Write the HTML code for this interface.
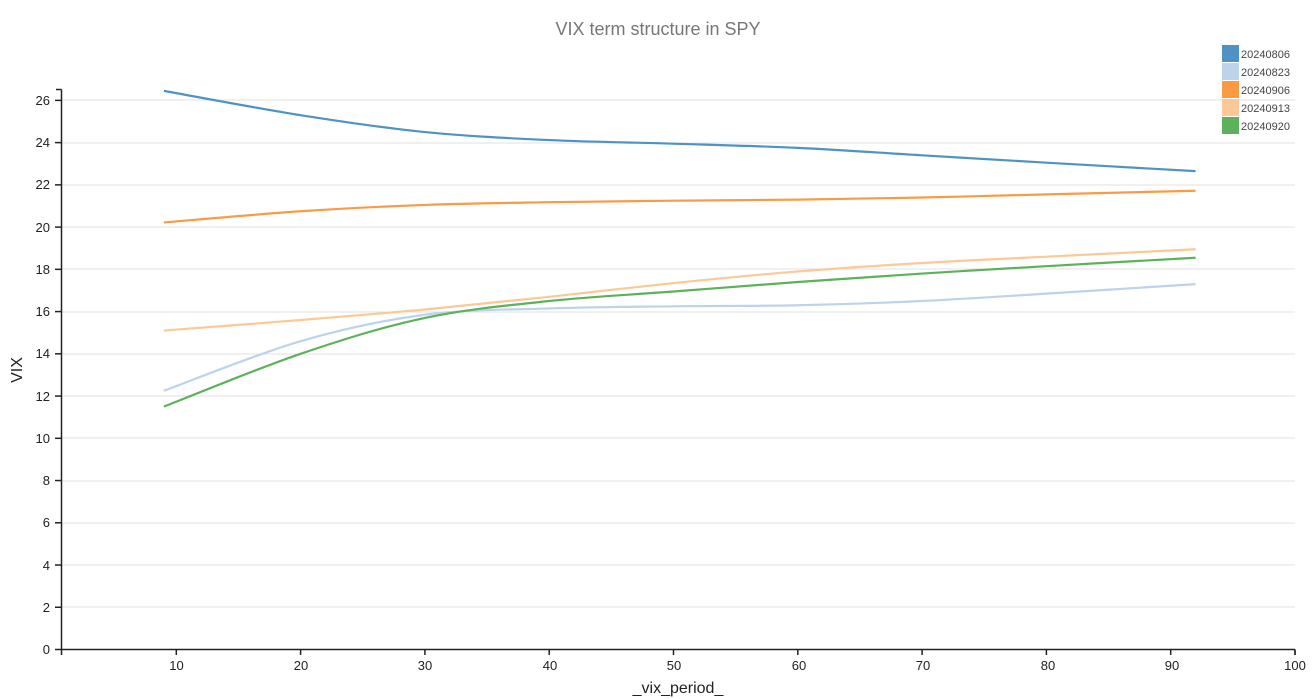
<!DOCTYPE html>
<html><head><meta charset="utf-8"><style>
body{margin:0;background:#fff;}
svg{display:block;font-family:"Liberation Sans",Arial,sans-serif;}
</style></head><body>
<svg id="s" width="1316" height="699" viewBox="0 0 1316 699">
<text x="658" y="35" text-anchor="middle" font-size="18" fill="#777">VIX term structure in SPY</text>
<g id="grid" stroke="#e2e2e2" stroke-width="1"></g>
<g id="ticks" font-size="13" fill="#222"></g>
<line x1="61.5" y1="89.5" x2="61.5" y2="655" stroke="#222" stroke-width="1.5"/>
<line x1="56" y1="89.5" x2="61.5" y2="89.5" stroke="#222" stroke-width="1.5"/>
<line x1="61" y1="649.5" x2="1295" y2="649.5" stroke="#222" stroke-width="1.5"/>
<line x1="1295" y1="649.5" x2="1295" y2="655" stroke="#222" stroke-width="1.5"/>
<text x="678" y="693" text-anchor="middle" font-size="16" fill="#222">_vix_period_</text>
<text x="22" y="370" text-anchor="middle" font-size="16" fill="#222" transform="rotate(-90 22 370)">VIX</text>
<g id="lines" fill="none" stroke-width="2.2"></g>
<g font-size="11" fill="#444">
<rect x="1222" y="45" width="17" height="17" fill="#4e93c4"/><text x="1241" y="58">20240806</text>
<rect x="1222" y="63" width="17" height="17" fill="#bcd3eb"/><text x="1241" y="76">20240823</text>
<rect x="1222" y="81" width="17" height="17" fill="#fb9a45"/><text x="1241" y="94">20240906</text>
<rect x="1222" y="99" width="17" height="17" fill="#fdc895"/><text x="1241" y="112">20240913</text>
<rect x="1222" y="117" width="17" height="17" fill="#5cb15a"/><text x="1241" y="130">20240920</text>
</g>
<g id="tl" font-size="13" fill="#222">
<text x="50" y="654" text-anchor="end">0</text><text x="50" y="612" text-anchor="end">2</text><text x="50" y="570" text-anchor="end">4</text><text x="50" y="527" text-anchor="end">6</text><text x="50" y="485" text-anchor="end">8</text><text x="50" y="443" text-anchor="end">10</text><text x="50" y="401" text-anchor="end">12</text><text x="50" y="358" text-anchor="end">14</text><text x="50" y="316" text-anchor="end">16</text><text x="50" y="274" text-anchor="end">18</text><text x="50" y="232" text-anchor="end">20</text><text x="50" y="189" text-anchor="end">22</text><text x="50" y="147" text-anchor="end">24</text><text x="50" y="105" text-anchor="end">26</text>
<text x="176.5" y="670" text-anchor="middle">10</text><text x="301" y="670" text-anchor="middle">20</text><text x="425" y="670" text-anchor="middle">30</text><text x="550" y="670" text-anchor="middle">40</text><text x="674" y="670" text-anchor="middle">50</text><text x="799" y="670" text-anchor="middle">60</text><text x="923" y="670" text-anchor="middle">70</text><text x="1048" y="670" text-anchor="middle">80</text><text x="1295" y="670" text-anchor="middle">100</text><text x="1172" y="670" text-anchor="middle">90</text>
</g>
</svg>
<script>
var NS="http://www.w3.org/2000/svg";
function X(v){return 52+v*12.43;}
function Y(v){return 649.5-v*21.12;}
var g=document.getElementById('grid'),t=document.getElementById('ticks');
function ln(p,a,b,c,d,col,w){var l=document.createElementNS(NS,'line');l.setAttribute('x1',a);l.setAttribute('y1',b);l.setAttribute('x2',c);l.setAttribute('y2',d);if(col)l.setAttribute('stroke',col);if(w)l.setAttribute('stroke-width',w);p.appendChild(l);}
for(var v=2;v<=26;v+=2)ln(g,61,Y(v)+.5|0,1295,Y(v)+.5|0);
for(var v=0;v<=26;v+=2)ln(t,55,Y(v),61,Y(v),'#222',1.5);
for(var v=10;v<=100;v+=10)ln(t,X(v),649.5,X(v),655,'#222',1.5);
var xs=[9,20,30,40,50,60,70,80,92];
var S=[["#4e93c4",[26.45,25.3,24.5,24.12,23.95,23.75,23.4,23.05,22.65]],
["#bcd3eb",[12.25,14.6,15.85,16.15,16.25,16.3,16.5,16.85,17.3]],
["#fb9a45",[20.22,20.75,21.05,21.18,21.25,21.3,21.4,21.55,21.72]],
["#fdc895",[15.1,15.6,16.1,16.7,17.35,17.9,18.3,18.6,18.95]],
["#5cb15a",[11.5,14.0,15.7,16.5,16.95,17.4,17.8,18.15,18.55]]];
var L=document.getElementById('lines');
S.forEach(function(s){var p=xs.map(function(x,i){return [X(x),Y(s[1][i])];});
var d="M"+p[0][0]+","+p[0][1];
for(var i=0;i<p.length-1;i++){var p0=p[i-1]||p[i],p1=p[i],p2=p[i+1],p3=p[i+2]||p2;
d+="C"+(p1[0]+(p2[0]-p0[0])/6)+","+(p1[1]+(p2[1]-p0[1])/6)+" "+(p2[0]-(p3[0]-p1[0])/6)+","+(p2[1]-(p3[1]-p1[1])/6)+" "+p2[0]+","+p2[1];}
var e=document.createElementNS(NS,'path');e.setAttribute('d',d);e.setAttribute('stroke',s[0]);L.appendChild(e);});
</script>
</body></html>
